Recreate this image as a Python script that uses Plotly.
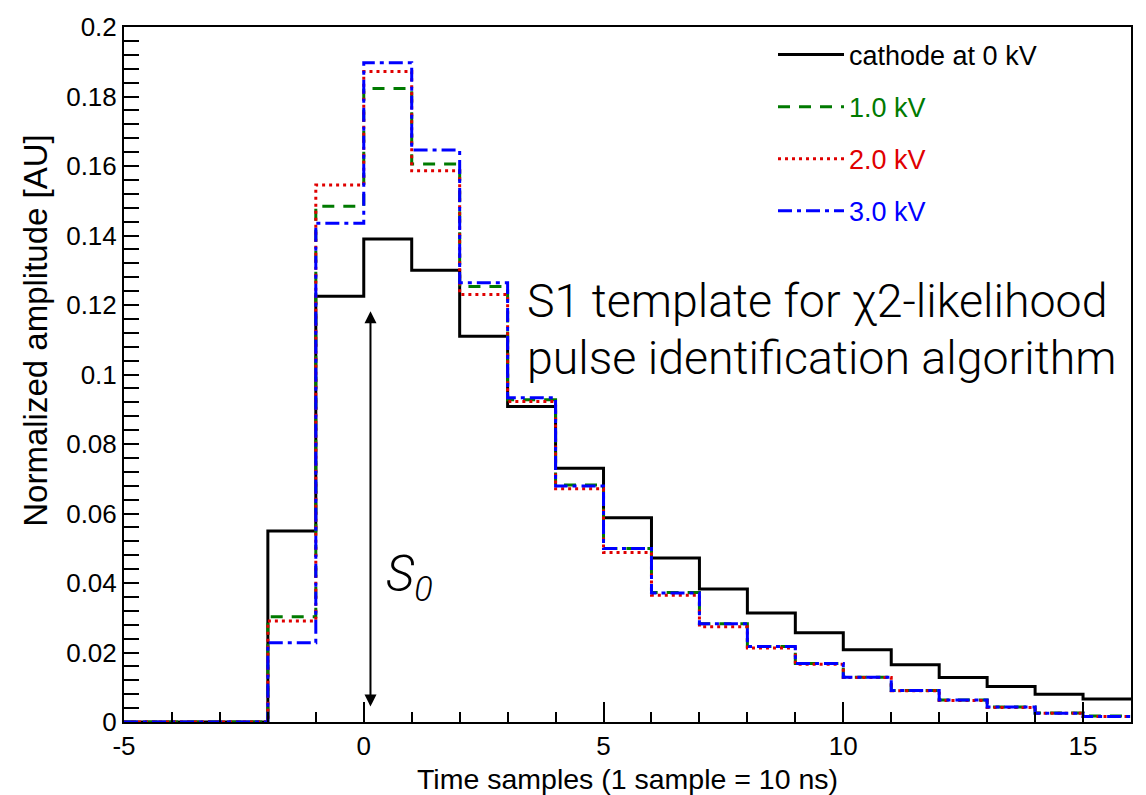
import plotly.graph_objects as go

bin_edges = list(range(-5, 17))
cathode_0kV = [0, 0, 0, 0.0550, 0.1225, 0.1390, 0.1300, 0.1110, 0.0908, 0.0730, 0.0588, 0.0472,
               0.0383, 0.0314, 0.0257, 0.0208, 0.0165, 0.0128, 0.0102, 0.0080, 0.0066]
kv_1 = [0, 0, 0, 0.0303, 0.1484, 0.1823, 0.1606, 0.1253, 0.0927, 0.0682, 0.0499, 0.0373,
        0.0283, 0.0217, 0.0168, 0.0129, 0.0091, 0.0063, 0.0043, 0.0026, 0.0017]
kv_2 = [0, 0, 0, 0.0291, 0.1545, 0.1872, 0.1586, 0.1230, 0.0922, 0.0671, 0.0488, 0.0365,
        0.0274, 0.0213, 0.0166, 0.0128, 0.0090, 0.0062, 0.0042, 0.0025, 0.0016]
kv_3 = [0, 0, 0, 0.0228, 0.1435, 0.1897, 0.1646, 0.1264, 0.0933, 0.0679, 0.0499, 0.0371,
        0.0283, 0.0217, 0.0168, 0.0129, 0.0091, 0.0063, 0.0043, 0.0025, 0.0016]
x_ticks = [-5, 0, 5, 10, 15]
x_tick_labels = ["-5", "0", "5", "10", "15"]
y_ticks = [0, 0.02, 0.04, 0.06, 0.08, 0.1, 0.12, 0.14, 0.16, 0.18, 0.2]
y_tick_labels = ["0", "0.02", "0.04", "0.06", "0.08", "0.1", "0.12", "0.14", "0.16", "0.18", "0.2"]

FONT = "Liberation Sans, Arial, sans-serif"

series = [
    ("cathode at 0 kV", cathode_0kV, "#000000", "solid"),
    ("1.0 kV", kv_1, "#007a00", "12px,9px"),
    ("2.0 kV", kv_2, "#e00000", "3px,4px"),
    ("3.0 kV", kv_3, "#0000ff", "14px,5px,4px,5px"),
]

fig = go.Figure()
for i, (name, vals, col, dash) in enumerate(series):
    ys = list(vals) + [vals[-1]]
    fig.add_trace(go.Scatter(
        x=bin_edges, y=ys, mode="lines", line_shape="hv",
        line=dict(color=col, width=3, dash=dash),
        name=f"<span style='color:{col}'>{name}</span>",
        legendgroup=f"g{i}",
    ))

fig.update_layout(
    width=1146, height=795,
    margin=dict(l=124, r=15, t=21, b=73),
    paper_bgcolor="white", plot_bgcolor="white",
    font=dict(family=FONT, size=26, color="black"),
    showlegend=True,
    legend=dict(x=0.6445, y=0.995, xanchor="left", yanchor="top",
                bgcolor="rgba(0,0,0,0)", font=dict(size=27),
                tracegroupgap=14, itemwidth=66),
)
fig.update_xaxes(
    range=[-5, 16], tickvals=x_ticks, ticktext=x_tick_labels, ticks="inside", ticklen=20,
    tickwidth=1.5, tickcolor="black", showline=True, linecolor="black", linewidth=2, mirror=True,
    showgrid=False, zeroline=False, tickfont=dict(size=26),
    minor=dict(dtick=1, ticks="inside", ticklen=10, tickwidth=1.5, tickcolor="black", showgrid=False),
)
fig.update_yaxes(
    range=[0, 0.2], tickvals=y_ticks, ticktext=y_tick_labels, ticks="inside", ticklen=15,
    tickwidth=1.5, tickcolor="black", showline=True, linecolor="black", linewidth=2, mirror=True,
    showgrid=False, zeroline=False, tickfont=dict(size=26),
    minor=dict(dtick=0.004, ticks="inside", ticklen=15, tickwidth=1.5, tickcolor="black", showgrid=False),
)

# axis titles
fig.add_annotation(text="Time samples (1 sample = 10 ns)", xref="paper", yref="paper",
                   x=0.5, y=-0.082, xanchor="center", yanchor="middle", showarrow=False,
                   font=dict(size=28.5))
fig.add_annotation(text="Normalized amplitude [AU]", xref="paper", yref="paper",
                   x=-0.088, y=0.5635, xanchor="center", yanchor="middle", showarrow=False,
                   textangle=-90, font=dict(size=33))

# big text (two lines)
BIG = dict(family="Roboto, Liberation Sans", size=46.5, weight=300)
fig.add_annotation(text="S1 template for χ2-likelihood", xref="x", yref="y", x=3.37, y=0.1212,
                   xanchor="left", yanchor="middle", showarrow=False, font=BIG)
fig.add_annotation(text="pulse identification algorithm", xref="x", yref="y", x=3.37, y=0.1047,
                   xanchor="left", yanchor="middle", showarrow=False, font=BIG)
# S0
fig.add_annotation(text="<i>S<sub>0</sub></i>", xref="x", yref="y", x=0.42, y=0.0415,
                   xanchor="left", yanchor="middle", showarrow=False,
                   font=dict(family="Roboto, Liberation Sans", size=49, weight=300))
# double arrow
fig.add_annotation(x=0.14, y=0.1182, ax=0.14, ay=0.004, xref="x", yref="y", axref="x", ayref="y",
                   text="", showarrow=True, arrowhead=2, arrowside="end+start",
                   arrowsize=1.2, arrowwidth=2, arrowcolor="black")

fig.write_html("out.html")
